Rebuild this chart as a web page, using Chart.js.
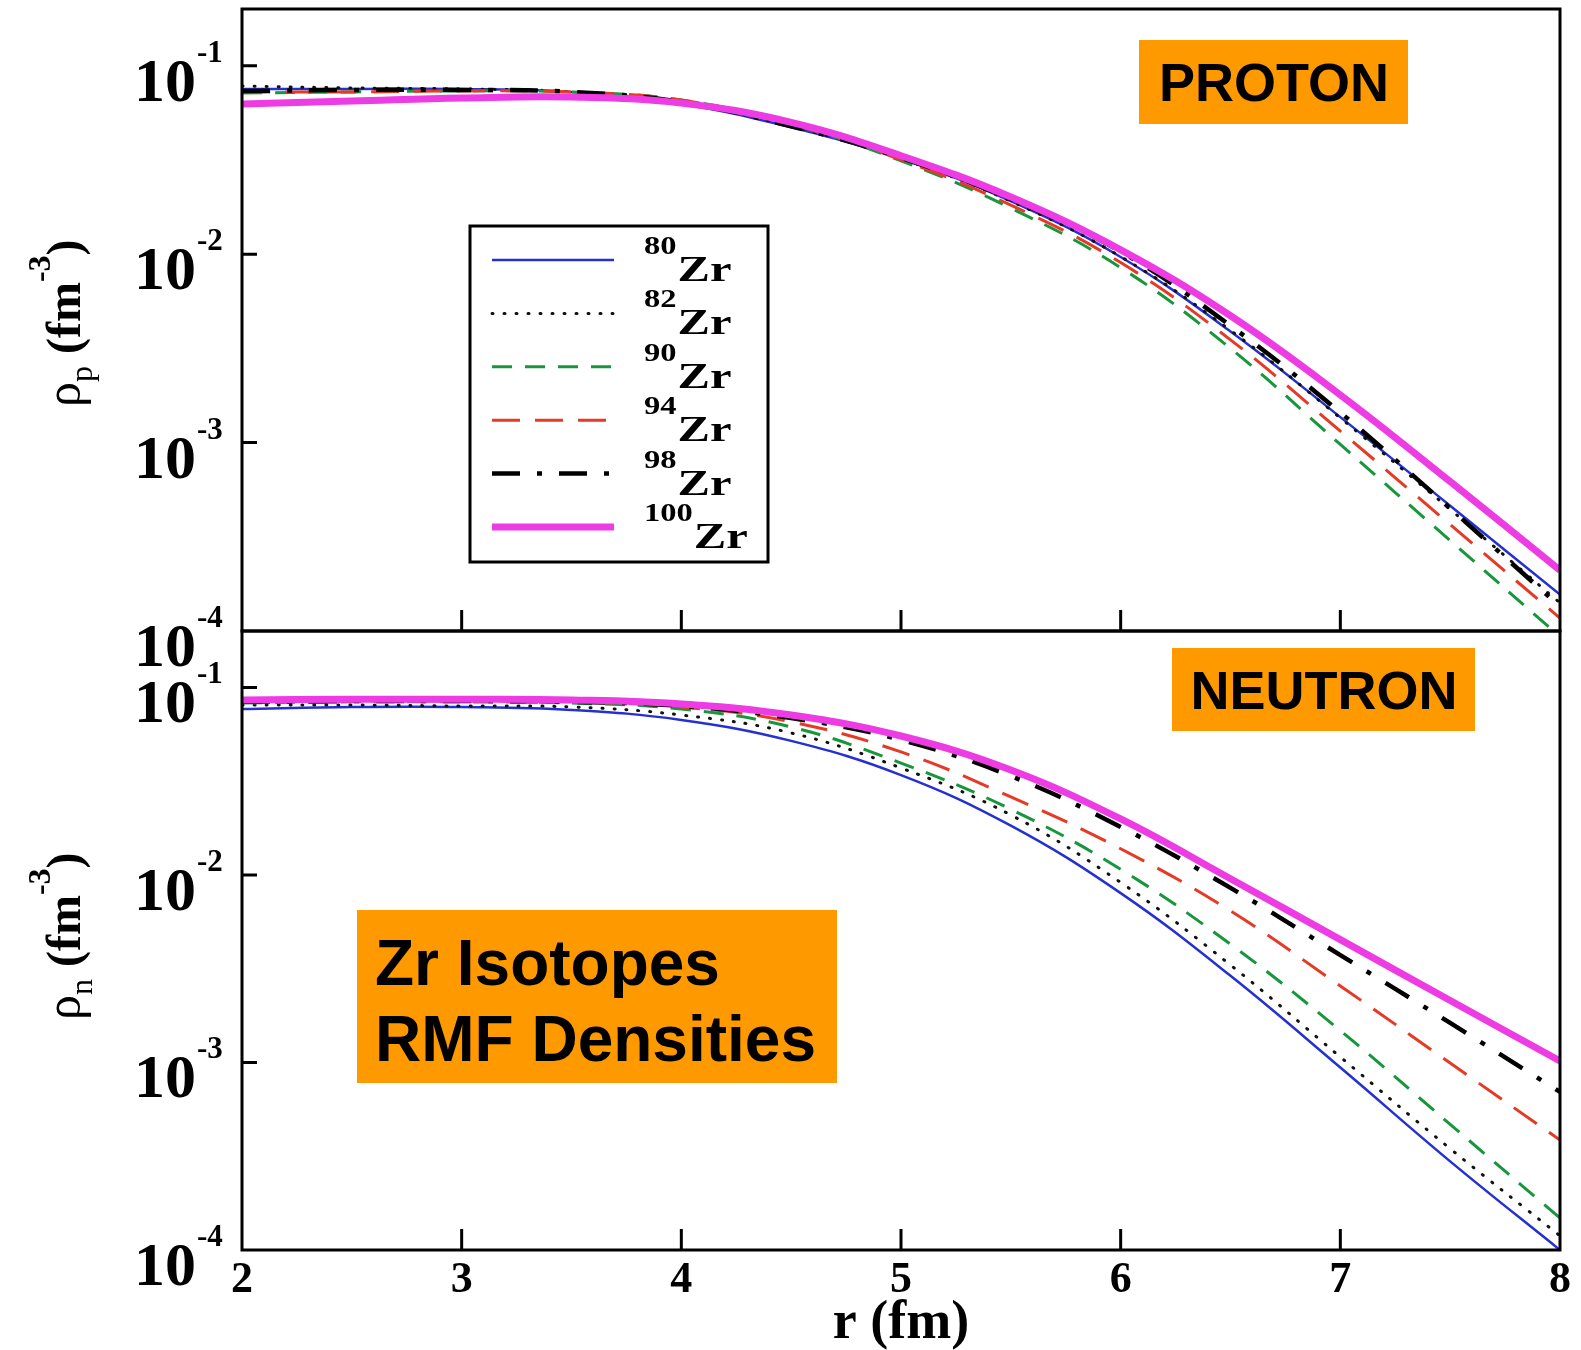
<!DOCTYPE html>
<html>
<head>
<meta charset="utf-8">
<script src="https://cdn.jsdelivr.net/npm/chart.js@4.4.1/dist/chart.umd.min.js"></script>
<style>
  body { margin: 0; background: #fff; }
  #wrap { position: relative; width: 1581px; height: 1350px; }
  canvas { position: absolute; left: 0; top: 0; }
</style>
</head>
<body>
<div id="wrap">
  <canvas id="protonChart" width="1581" height="1350"></canvas>
  <canvas id="neutronChart" width="1581" height="1350"></canvas>
</div>
<script>
// r (fm)
const radius = [2, 2.5, 3, 3.5, 4, 4.5, 5, 5.5, 6, 6.5, 7, 7.5, 8];
const isotopes = ['80', '82', '90', '94', '98', '100'];

// proton densities (fm^-3)
const protonZr80  = [0.0753, 0.0753, 0.0753, 0.0726, 0.0626, 0.0471, 0.0321, 0.0191, 0.00966, 0.00389, 0.001365, 0.000462, 0.000156];
const protonZr82  = [0.0781, 0.0762, 0.0753, 0.0726, 0.0633, 0.0477, 0.0321, 0.0191, 0.0097, 0.00394, 0.00135, 0.000442, 0.000141];
const protonZr90  = [0.0716, 0.0726, 0.0735, 0.0726, 0.0657, 0.0489, 0.0313, 0.01756, 0.00848, 0.00316, 0.000977, 0.000302, 0.0000933];
const protonZr94  = [0.0726, 0.0726, 0.0735, 0.0726, 0.0657, 0.0489, 0.0317, 0.0182, 0.00902, 0.00351, 0.00115, 0.000367, 0.000117];
const protonZr98  = [0.0735, 0.0744, 0.0744, 0.0726, 0.0641, 0.0477, 0.0325, 0.0196, 0.01032, 0.00417, 0.001445, 0.000447, 0.000135];
const protonZr100 = [0.0626, 0.0649, 0.0674, 0.0682, 0.0633, 0.0501, 0.0333, 0.0201, 0.01054, 0.00471, 0.00179, 0.000621, 0.00021];

// neutron densities (fm^-3)
const neutronZr80  = [0.0767, 0.0787, 0.0787, 0.0759, 0.0671, 0.0519, 0.0341, 0.01832, 0.0080, 0.0029, 0.00094, 0.000297, 0.0001];
const neutronZr82  = [0.0806, 0.0806, 0.0796, 0.0787, 0.0713, 0.0572, 0.0372, 0.0209, 0.00912, 0.00331, 0.00107, 0.000347, 0.000119];
const neutronZr90  = [0.0826, 0.0838, 0.0838, 0.0826, 0.0767, 0.0615, 0.0395, 0.0224, 0.01072, 0.00427, 0.00148, 0.000468, 0.000148];
const neutronZr94  = [0.0838, 0.0846, 0.0846, 0.0838, 0.0787, 0.0655, 0.0453, 0.0261, 0.0138, 0.00643, 0.00256, 0.000993, 0.000386];
const neutronZr98  = [0.0838, 0.0846, 0.0846, 0.0838, 0.0796, 0.0687, 0.0525, 0.0337, 0.01803, 0.00853, 0.00374, 0.001625, 0.000697];
const neutronZr100 = [0.0858, 0.0865, 0.0865, 0.0858, 0.0817, 0.0713, 0.0551, 0.0363, 0.0199, 0.00955, 0.00452, 0.00214, 0.00102];

const xTicks = [2, 3, 4, 5, 6, 7, 8];
const yTicks = [1e-1, 1e-2, 1e-3, 1e-4];

const serif = '"Liberation Serif", "Times New Roman", serif';
const sans = '"Liberation Sans", Arial, sans-serif';

const styles = [
  { borderColor: '#2430d0', borderWidth: 2.5, borderDash: [] },
  { borderColor: '#111111', borderWidth: 3, borderDash: [1, 11], borderCapStyle: 'round' },
  { borderColor: '#17963c', borderWidth: 3, borderDash: [20, 13] },
  { borderColor: '#e43a26', borderWidth: 3, borderDash: [28, 15] },
  { borderColor: '#000000', borderWidth: 4.5, borderDash: [28, 17, 5, 17] },
  { borderColor: '#ee3ce4', borderWidth: 7, borderDash: [] },
];

function makeDatasets(series) {
  return series.map((vals, i) => ({
    label: isotopes[i] + 'Zr',
    data: radius.map((r, j) => ({ x: r, y: vals[j] })),
    pointRadius: 0,
    fill: false,
    tension: 0.4,
    clip: 0,
    ...styles[i],
  })).reverse();
}

function orangeBox(ctx, x, y, w, h, lines, size, align, tx, ty, lh) {
  ctx.fillStyle = '#ff9900';
  ctx.fillRect(x, y, w, h);
  ctx.fillStyle = '#000';
  ctx.font = 'bold ' + size + 'px ' + sans;
  ctx.textAlign = align;
  ctx.textBaseline = 'middle';
  lines.forEach((t, k) => ctx.fillText(t, tx, ty + k * lh));
}

function yTitle(ctx, sub, x, y) {
  ctx.save();
  ctx.translate(x, y);
  ctx.rotate(-Math.PI / 2);
  ctx.textAlign = 'left';
  ctx.textBaseline = 'alphabetic';
  ctx.fillStyle = '#000';
  let cx = 0;
  const part = (t, font, dy) => {
    ctx.font = font;
    ctx.fillText(t, cx, dy);
    cx += ctx.measureText(t).width;
  };
  part('\u03c1', '50px ' + serif, 0);
  part(sub, '32px ' + serif, 12);
  part(' (fm', 'bold 48px ' + serif, 0);
  part('-3', 'bold 32px ' + serif, -30);
  part(')', 'bold 48px ' + serif, 0);
  ctx.restore();
}

// text stretched sideways like the original figure
function wideText(ctx, t, x, y, sx) {
  ctx.save();
  ctx.translate(x, y);
  ctx.scale(sx, 1);
  ctx.fillText(t, 0, 0);
  const w = ctx.measureText(t).width * sx;
  ctx.restore();
  return w;
}

const framePlugin = {
  id: 'frame',
  afterDraw(chart, args, opts) {
    const { ctx, chartArea: a, scales: { x, y } } = chart;
    ctx.save();
    ctx.strokeStyle = '#000';
    ctx.fillStyle = '#000';
    ctx.lineWidth = 3;
    ctx.strokeRect(a.left, a.top, a.right - a.left, a.bottom - a.top);

    // inward tick marks
    ctx.beginPath();
    xTicks.slice(1, -1).forEach(v => {
      const px = x.getPixelForValue(v);
      ctx.moveTo(px, a.bottom);
      ctx.lineTo(px, a.bottom - 21);
    });
    yTicks.slice(0, -1).forEach(v => {
      const py = y.getPixelForValue(v);
      ctx.moveTo(a.left, py);
      ctx.lineTo(a.left + 15, py);
    });
    ctx.stroke();

    // 10^n labels
    ctx.textBaseline = 'alphabetic';
    yTicks.forEach(v => {
      const py = y.getPixelForValue(v);
      ctx.font = 'bold 62px ' + serif;
      ctx.textAlign = 'right';
      ctx.fillText('10', a.left - 46, py + 35);
      ctx.font = 'bold 31px ' + serif;
      ctx.textAlign = 'left';
      ctx.fillText(String(Math.round(Math.log10(v))), a.left - 45, py - 4);
    });

    if (opts.xLabels) {
      ctx.font = 'bold 44px ' + serif;
      ctx.textAlign = 'center';
      xTicks.forEach(v => ctx.fillText(String(v), x.getPixelForValue(v), a.bottom + 42));
      ctx.font = 'bold 54px ' + serif;
      ctx.fillText('r (fm)', (a.left + a.right) / 2, a.bottom + 88);
    }

    yTitle(ctx, opts.sub, 80, opts.titleY);

    if (opts.legend) {
      ctx.lineWidth = 3;
      ctx.strokeStyle = '#000';
      ctx.strokeRect(470, 226, 298, 336);
      const sets = chart.data.datasets.slice().reverse();
      sets.forEach((ds, k) => {
        const ry = 260 + k * 53.4;
        ctx.save();
        ctx.strokeStyle = ds.borderColor;
        ctx.lineWidth = ds.borderWidth;
        ctx.setLineDash(ds.borderDash || []);
        ctx.lineCap = ds.borderCapStyle || 'butt';
        ctx.beginPath();
        ctx.moveTo(492, ry);
        ctx.lineTo(614, ry);
        ctx.stroke();
        ctx.restore();
        ctx.fillStyle = '#000';
        ctx.textAlign = 'left';
        ctx.font = 'bold 25px ' + serif;
        const w = wideText(ctx, isotopes[k], 644, ry - 6, 1.3);
        ctx.font = 'bold 36px ' + serif;
        wideText(ctx, 'Zr', 645 + w, ry + 21, 1.35);
      });
    }

    (opts.boxes || []).forEach(b => orangeBox(ctx, ...b));
    ctx.restore();
  }
};

function panel(id, series, padTop, padBottom, frameOpts) {
  return new Chart(document.getElementById(id), {
    type: 'line',
    data: { datasets: makeDatasets(series) },
    options: {
      responsive: false,
      animation: false,
      layout: { padding: { left: 242, right: 21, top: padTop, bottom: padBottom } },
      scales: {
        x: { type: 'linear', min: 2, max: 8, display: false },
        y: { type: 'logarithmic', min: 1e-4, max: 0.2, display: false },
      },
      plugins: {
        legend: { display: false },
        tooltip: { enabled: false },
        frame: frameOpts,
      },
    },
    plugins: [framePlugin],
  });
}

panel('protonChart',
  [protonZr80, protonZr82, protonZr90, protonZr94, protonZr98, protonZr100],
  9, 719,
  {
    sub: 'p', titleY: 407, legend: true, xLabels: false,
    boxes: [[1139, 40, 269, 84, ['PROTON'], 54, 'center', 1274, 86, 0]],
  });

panel('neutronChart',
  [neutronZr80, neutronZr82, neutronZr90, neutronZr94, neutronZr98, neutronZr100],
  631, 100,
  {
    sub: 'n', titleY: 1020, legend: false, xLabels: true,
    boxes: [
      [1172, 648, 303, 83, ['NEUTRON'], 54, 'center', 1324, 694, 0],
      [357, 910, 480, 173, ['Zr Isotopes', 'RMF Densities'], 64, 'left', 375, 967, 76],
    ],
  });
</script>
</body>
</html>
